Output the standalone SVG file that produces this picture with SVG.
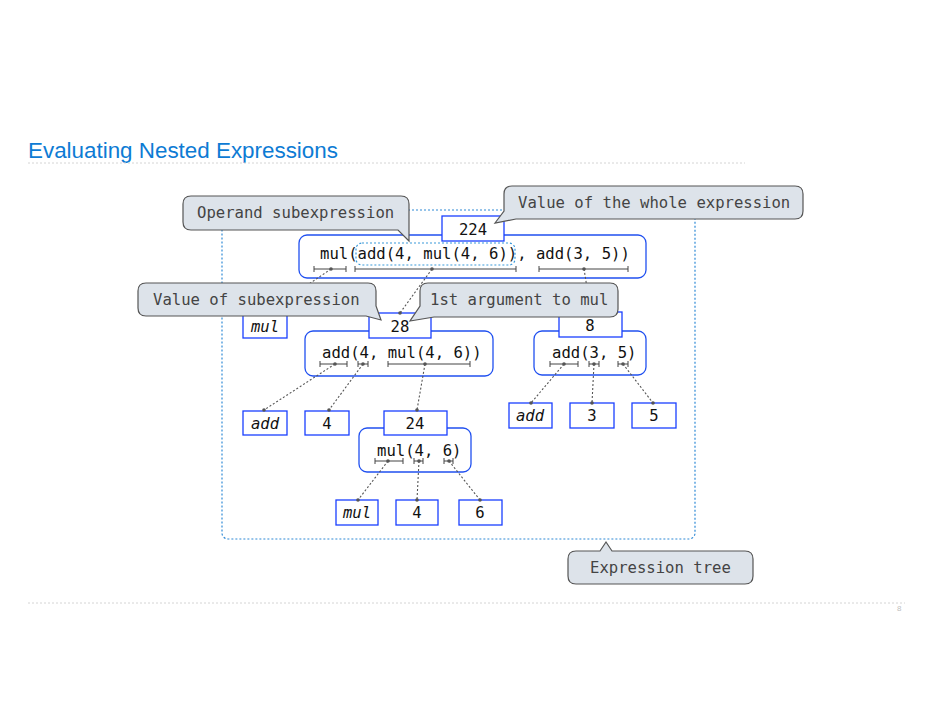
<svg xmlns="http://www.w3.org/2000/svg" width="934" height="725" viewBox="0 0 934 725">
<style>
.mono{font-family:"DejaVu Sans Mono","Liberation Mono",monospace;font-size:15.6px;fill:#111}
.it{font-style:italic}
.node{fill:#fff;stroke:#2050f0;stroke-width:1.3}
.val{fill:#fff;stroke:#1a3fff;stroke-width:1.3}
.br{fill:none;stroke:#444;stroke-width:1}
.con{fill:none;stroke:#555;stroke-width:1.1;stroke-dasharray:2,2}
.dot{fill:#555}
.call{fill:#dde3ea;stroke:#555;stroke-width:1.2}
.ctext{font-family:"DejaVu Sans Mono","Liberation Mono",monospace;font-size:15.6px;fill:#444}
.rule{stroke:#d4d4d4;stroke-width:1;stroke-dasharray:2,2}
</style>
<rect width="934" height="725" fill="#fff"/>
<text x="28" y="158" font-family="Liberation Sans, Arial, sans-serif" font-size="22.4" fill="#0d7bd4">Evaluating Nested Expressions</text>
<line class="rule" x1="28" y1="163" x2="745" y2="163"/>
<line class="rule" x1="28" y1="603" x2="905" y2="603" stroke="#e4e4e4"/>
<text x="897" y="611" font-family="Liberation Sans, Arial, sans-serif" font-size="8" fill="#c0c0c0">8</text>

<rect id="tree-box" x="222" y="210" width="473" height="329" rx="6" fill="none" stroke="#2f8ad6" stroke-width="1.2" stroke-dasharray="2,2"/>

<g id="node-root">
<rect class="node" x="299" y="235" width="347" height="43" rx="8"/>
<rect x="356" y="243" width="159" height="22" rx="6" fill="none" stroke="#3a9ad9" stroke-width="1.2" stroke-dasharray="2,2"/>
<text class="mono" x="320" y="259" xml:space="preserve">mul(add(4, mul(4, 6)), add(3, 5))</text>
<path class="br" d="M314 266v6M314 269H346M346 266v6M355 266v6M355 269H516M516 266v6M539 266v6M539 269H628M628 266v6"/>
<rect class="val" x="442" y="216" width="62" height="25"/>
<text class="mono" x="473" y="235" text-anchor="middle">224</text>
</g>

<g id="node-mul-op1">
<rect class="val" x="243" y="314" width="44" height="24"/>
<text class="mono it" x="265" y="332" text-anchor="middle">mul</text>
</g>

<g id="node-add1">
<rect class="node" x="305" y="331" width="188" height="45" rx="8"/>
<text class="mono" x="322" y="358" xml:space="preserve">add(4, mul(4, 6))</text>
<path class="br" d="M320 361v6M320 364H347M347 361v6M358 361v6M358 364H368M368 361v6M388 361v6M388 364H470M470 361v6"/>
<rect class="val" x="369" y="313" width="62" height="25"/>
<text class="mono" x="400" y="332" text-anchor="middle">28</text>
</g>

<g id="node-add2">
<rect class="node" x="534" y="331" width="112" height="44" rx="8"/>
<text class="mono" x="552" y="358" xml:space="preserve">add(3, 5)</text>
<path class="br" d="M550 361v6M550 364H578M578 361v6M589 361v6M589 364H599M599 361v6M618 361v6M618 364H628M628 361v6"/>
<rect class="val" x="559" y="312" width="63" height="25"/>
<text class="mono" x="590" y="331" text-anchor="middle">8</text>
</g>

<g id="leaf-add1"><rect class="val" x="243" y="411" width="44" height="24"/><text class="mono it" x="265" y="429" text-anchor="middle">add</text></g>
<g id="leaf-4a"><rect class="val" x="305" y="411" width="44" height="24"/><text class="mono" x="327" y="429" text-anchor="middle">4</text></g>

<g id="node-mul2">
<rect class="node" x="359" y="428" width="112" height="44" rx="8"/>
<text class="mono" x="377" y="456" xml:space="preserve">mul(4, 6)</text>
<path class="br" d="M375 458v6M375 461H403M403 458v6M414 458v6M414 461H423M423 458v6M444 458v6M444 461H453M453 458v6"/>
<rect class="val" x="384" y="411" width="63" height="24"/>
<text class="mono" x="415" y="429" text-anchor="middle">24</text>
</g>

<g id="leaf-add2"><rect class="val" x="509" y="403" width="43" height="25"/><text class="mono it" x="530" y="421" text-anchor="middle">add</text></g>
<g id="leaf-3"><rect class="val" x="570" y="403" width="44" height="25"/><text class="mono" x="592" y="421" text-anchor="middle">3</text></g>
<g id="leaf-5"><rect class="val" x="632" y="403" width="44" height="25"/><text class="mono" x="654" y="421" text-anchor="middle">5</text></g>

<g id="leaf-mul3"><rect class="val" x="336" y="500" width="42" height="25"/><text class="mono it" x="357" y="518" text-anchor="middle">mul</text></g>
<g id="leaf-4b"><rect class="val" x="396" y="500" width="42" height="25"/><text class="mono" x="417" y="518" text-anchor="middle">4</text></g>
<g id="leaf-6"><rect class="val" x="459" y="500" width="43" height="25"/><text class="mono" x="480" y="518" text-anchor="middle">6</text></g>

<g id="connectors">
<path class="con" d="M331 269L265 314M432 269L400 313M584 269L591 312M335 364L264 410M363 364L329 410M425 364L417 410M564 364L531 403M594 364L592 403M623 364L653 403M388 461L358 500M419 461L417 500M449 461L480 500"/>
<g class="dot">
<circle cx="331" cy="269" r="1.8"/><circle cx="432" cy="269" r="1.8"/><circle cx="584" cy="269" r="1.8"/>
<circle cx="400" cy="313" r="1.8"/>
<circle cx="335" cy="364" r="1.8"/><circle cx="363" cy="364" r="1.8"/><circle cx="425" cy="364" r="1.8"/>
<circle cx="264" cy="410" r="1.8"/><circle cx="329" cy="410" r="1.8"/><circle cx="417" cy="410" r="1.8"/>
<circle cx="564" cy="364" r="1.8"/><circle cx="594" cy="364" r="1.8"/><circle cx="623" cy="364" r="1.8"/>
<circle cx="531" cy="403" r="1.8"/><circle cx="592" cy="403" r="1.8"/><circle cx="653" cy="403" r="1.8"/>
<circle cx="388" cy="461" r="1.8"/><circle cx="419" cy="461" r="1.8"/><circle cx="449" cy="461" r="1.8"/>
<circle cx="358" cy="500" r="1.8"/><circle cx="417" cy="500" r="1.8"/><circle cx="480" cy="500" r="1.8"/>
</g>
</g>

<g id="callout-operand">
<path class="call" d="M191 196H401Q409 196 409 204V241L398 230H191Q183 230 183 222V204Q183 196 191 196Z"/>
<text class="ctext" x="197" y="218">Operand subexpression</text>
</g>
<g id="callout-whole">
<path class="call" d="M512 186H795Q803 186 803 194V211Q803 219 795 219H516L495 223L504 211V194Q504 186 512 186Z"/>
<text class="ctext" x="518" y="208">Value of the whole expression</text>
</g>
<g id="callout-subvalue">
<path class="call" d="M146 283H368Q376 283 376 291V306L381 320L366 316H146Q138 316 138 308V291Q138 283 146 283Z"/>
<text class="ctext" x="153" y="305">Value of subexpression</text>
</g>
<g id="callout-arg">
<path class="call" d="M428 283H610Q618 283 618 291V309Q618 317 610 317H434L410 321L420 306V291Q420 283 428 283Z"/>
<text class="ctext" x="430" y="305">1st argument to mul</text>
</g>
<g id="callout-tree">
<path class="call" d="M576 551H600L606 542L612 551H745Q753 551 753 559V576Q753 584 745 584H576Q568 584 568 576V559Q568 551 576 551Z"/>
<text class="ctext" x="590" y="573">Expression tree</text>
</g>
</svg>
